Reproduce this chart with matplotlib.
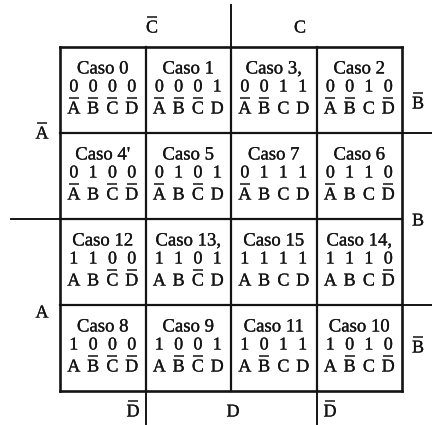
#!/usr/bin/env python3
"""Karnaugh map de 4 variables (A, B, C, D) com os 16 casos."""

import matplotlib
matplotlib.use("Agg")
import matplotlib.pyplot as plt
import matplotlib.patheffects as pe

# Casos em ordem de Gray: linhas = AB (00, 01, 11, 10), colunas = CD (00, 01, 11, 10)
CASES = [
    [0, 1, 3, 2],
    [4, 5, 7, 6],
    [12, 13, 15, 14],
    [8, 9, 11, 10],
]
# titulos como aparecem no original (com as marquinhas da impressao)
TITLES = [
    ["Caso 0", "Caso 1", "Caso 3,", "Caso 2"],
    ["Caso 4'", "Caso 5", "Caso 7", "Caso 6"],
    ["Caso 12", "Caso 13,", "Caso 15", "Caso 14,"],
    ["Caso 8", "Caso 9", "Caso 11", "Caso 10"],
]
VARS = ["A", "B", "C", "D"]

TOP_LABELS = [("C", True, 152), ("C", False, 300)]
BOTTOM_LABELS = [("D", True, 133), ("D", False, 233), ("D", True, 330)]
LEFT_LABELS = [("A", True, 134), ("A", False, 313)]
RIGHT_LABELS = [("B", True, 104), ("B", False, 221), ("B", True, 348)]

INK = "#141414"
FONT = "Liberation Serif"
FS_TITLE = 13.5
FS = 13
THICK = [pe.withStroke(linewidth=0.2, foreground=INK)]

X0, Y0 = 60, 47          # canto superior esquerdo da grade (px)
CW, CH = 85.5, 86        # largura / altura da celula


def label(ax, x, y, txt, bar, fs=FS):
    ax.text(x, y, txt, ha="center", va="center", fontsize=fs,
            family=FONT, color=INK, path_effects=THICK)
    if bar:
        ax.plot([x - 5, x + 5], [y - 10.8, y - 10.8], color=INK, lw=1.1,
                solid_capstyle="butt")


def main():
    fig = plt.figure(figsize=(4.32, 4.25), dpi=100)
    ax = fig.add_axes([0, 0, 1, 1])
    ax.set_xlim(0, 432)
    ax.set_ylim(425, 0)
    ax.axis("off")

    n = len(CASES)
    x1, y1 = X0 + n * CW, Y0 + n * CH

    # grade
    for i in range(n + 1):
        lw = 1.9 if i in (0, n) else 1.6
        ax.plot([X0 + i * CW] * 2, [Y0, y1], color=INK, lw=lw)
        ax.plot([X0, x1], [Y0 + i * CH] * 2, color=INK, lw=lw)

    # linhas externas que separam as regioes das variaveis
    ax.plot([X0 + 2 * CW] * 2, [5, Y0], color=INK, lw=1.4)
    ax.plot([X0 + CW] * 2, [y1, 424], color=INK, lw=1.4)
    ax.plot([X0 + 3 * CW] * 2, [y1, 424], color=INK, lw=1.4)
    ax.plot([11, X0], [Y0 + 2 * CH] * 2, color=INK, lw=1.4)
    ax.plot([x1, 432], [Y0 + CH] * 2, color=INK, lw=1.4)
    ax.plot([x1, 432], [Y0 + 3 * CH] * 2, color=INK, lw=1.4)

    # celulas
    offs = [-1.5, -0.5, 0.5, 1.5]
    step = 19.3
    for r in range(n):
        for c in range(n):
            case = CASES[r][c]
            bits = format(case, "04b")
            cx = X0 + c * CW + CW / 2
            top = Y0 + r * CH
            ax.text(cx, top + 22, TITLES[r][c], ha="center", va="center",
                    fontsize=FS_TITLE, family=FONT, color=INK,
                    path_effects=THICK)
            for k, b in enumerate(bits):
                xk = cx + offs[k] * step
                ax.text(xk, top + 40, b, ha="center", va="center",
                        fontsize=FS, family=FONT, color=INK,
                        path_effects=THICK)
                label(ax, xk, top + 62, VARS[k], b == "0")

    for txt, bar, x in TOP_LABELS:
        label(ax, x, 28, txt, bar)
    for txt, bar, x in BOTTOM_LABELS:
        label(ax, x, 412, txt, bar)
    for txt, bar, y in LEFT_LABELS:
        label(ax, 42, y, txt, bar)
    for txt, bar, y in RIGHT_LABELS:
        label(ax, 418, y, txt, bar)

    fig.savefig("out.png", dpi=100, facecolor="white")
    plt.close(fig)


if __name__ == "__main__":
    main()
